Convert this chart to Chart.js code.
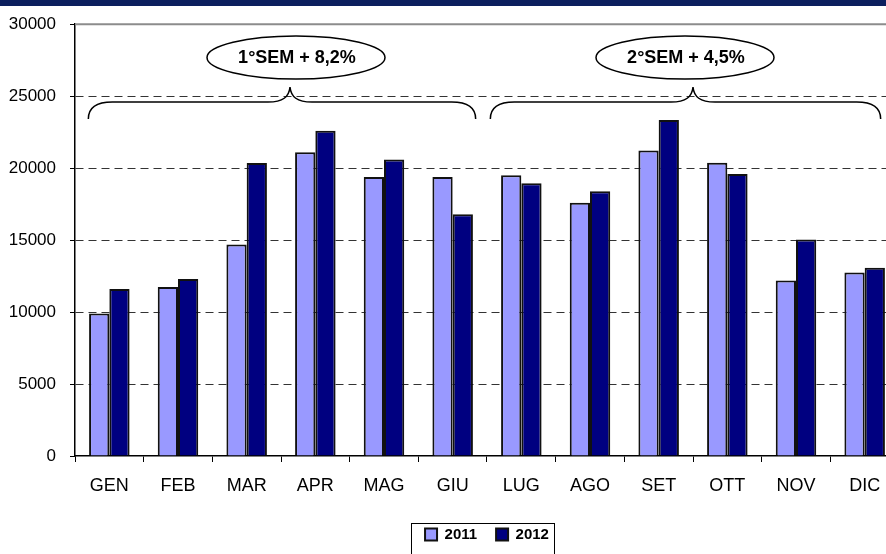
<!DOCTYPE html>
<html>
<head>
<meta charset="utf-8">
<script src="https://cdn.jsdelivr.net/npm/chart.js@4/dist/chart.umd.min.js"></script>
<style>
  body { margin: 0; background: #fff; overflow: hidden; width: 886px; height: 554px; position: relative; }
  #banner { position: absolute; left: 0; top: 0; width: 886px; height: 6px; background: #0c1f5e; z-index: 2; }
  #box { position: absolute; left: 0; top: 0; width: 915px; height: 560px; }
</style>
</head>
<body>
<div id="banner"></div>
<div id="box"><canvas id="grafico"></canvas></div>
<script>
// mesi e valori
var mesi = ['GEN', 'FEB', 'MAR', 'APR', 'MAG', 'GIU', 'LUG', 'AGO', 'SET', 'OTT', 'NOV', 'DIC'];
var valori2011 = [9900, 11750, 14700, 21100, 19380, 19380, 19500, 17600, 21230, 20370, 12200, 12750];
var valori2012 = [11600, 12300, 20350, 22600, 20600, 16800, 18950, 18400, 23350, 19600, 15050, 13080];
var yTickLabels = ['0', '5000', '10000', '15000', '20000', '25000', '30000'];
var semestri = ['1°SEM + 8,2%', '2°SEM + 4,5%'];

var font = "'Liberation Sans', Arial, sans-serif";

// graffe, ovali, linea superiore e cornice della legenda
var annotazioni = {
  id: 'annotazioni',
  afterDraw: function (chart) {
    var ctx = chart.ctx;
    var area = chart.chartArea;
    var xs = chart.scales.x;
    var legend = chart.legend;

    ctx.save();
    ctx.strokeStyle = '#8c8c8c';
    ctx.lineWidth = 2;
    ctx.beginPath();
    ctx.moveTo(area.left, area.top);
    ctx.lineTo(area.right, area.top);
    ctx.stroke();
    ctx.restore();

    var gruppi = [
      { L: xs.getPixelForValue(0) - 21, R: xs.getPixelForValue(5) + 23, C: 290, ex: 296 },
      { L: xs.getPixelForValue(6) - 31, R: xs.getPixelForValue(11) + 16, C: 693, ex: 685 }
    ];
    ctx.save();
    ctx.strokeStyle = '#000';
    ctx.lineWidth = 1.5;
    gruppi.forEach(function (g, i) {
      var yEnd = 119, yArm = 102, yTop = 87;
      ctx.beginPath();
      ctx.moveTo(g.L, yEnd);
      ctx.bezierCurveTo(g.L, 107, g.L + 8, yArm, g.L + 24, yArm);
      ctx.lineTo(g.C - 22, yArm);
      ctx.bezierCurveTo(g.C - 7, yArm, g.C - 1, 97, g.C, yTop);
      ctx.bezierCurveTo(g.C + 1, 97, g.C + 7, yArm, g.C + 22, yArm);
      ctx.lineTo(g.R - 24, yArm);
      ctx.bezierCurveTo(g.R - 8, yArm, g.R, 107, g.R, yEnd);
      ctx.stroke();

      ctx.beginPath();
      ctx.fillStyle = '#fff';
      ctx.ellipse(g.ex, 57.5, 89, 21.5, 0, 0, Math.PI * 2);
      ctx.fill();
      ctx.stroke();
      ctx.fillStyle = '#000';
      ctx.font = 'bold 18px ' + font;
      ctx.textAlign = 'center';
      ctx.textBaseline = 'middle';
      ctx.fillText(semestri[i], g.ex + 1, 58);
    });

    var hb = legend.legendHitBoxes;
    if (hb && hb.length) {
      var a = hb[0], b = hb[hb.length - 1];
      var x0 = Math.round(a.left - 14) + 0.5;
      var x1 = Math.round(b.left + b.width + 5) + 0.5;
      ctx.strokeStyle = '#000';
      ctx.lineWidth = 1;
      ctx.strokeRect(x0, Math.round(a.top - 4) + 0.5, x1 - x0, 34);
    }
    ctx.restore();
  }
};

var ctx = document.getElementById('grafico').getContext('2d');
var myChart = new Chart(ctx, {
  type: 'bar',
  data: {
    labels: mesi,
    datasets: [{
      label: '2011',
      data: valori2011,
      backgroundColor: '#9999ff',
      borderColor: '#111',
      borderWidth: 2
    }, {
      label: '2012',
      data: valori2012,
      backgroundColor: '#000080',
      borderColor: '#111',
      borderWidth: 2
    }]
  },
  options: {
    responsive: true,
    maintainAspectRatio: false,
    animation: false,
    layout: { padding: { left: 0, right: 16, top: 23, bottom: 8 } },
    datasets: { bar: { categoryPercentage: 0.59, barPercentage: 1.0 } },
    plugins: {
      tooltip: { enabled: false },
      legend: {
        position: 'bottom',
        fullSize: false,
        labels: {
          color: '#000',
          font: { family: font, size: 15, weight: 'bold' },
          boxWidth: 12,
          boxHeight: 12,
          padding: 19
        }
      }
    },
    scales: {
      x: {
        afterFit: function (s) { s.height = 52; },
        grid: {
          display: true,
          drawOnChartArea: false,
          drawTicks: true,
          tickLength: 6,
          tickColor: '#000',
          offset: true
        },
        border: { display: true, color: '#000', width: 1.5 },
        ticks: {
          color: '#000',
          padding: 13,
          font: { family: font, size: 18 }
        }
      },
      y: {
        min: 0,
        max: 30000,
        afterFit: function (s) { s.width = 75; },
        grid: {
          color: function (c) { return (c.tick && (c.tick.value === 30000 || c.tick.value === 0)) ? 'rgba(0,0,0,0)' : '#333'; },
          lineWidth: 1,
          tickLength: 5,
          tickColor: '#000'
        },
        border: { display: true, color: '#000', width: 1.5, dash: [8, 5] },
        ticks: {
          stepSize: 5000,
          color: '#000',
          padding: 14,
          font: { family: font, size: 17 },
          callback: function (v, i) { return yTickLabels[i]; }
        }
      }
    }
  },
  plugins: [annotazioni]
});
</script>
</body>
</html>
